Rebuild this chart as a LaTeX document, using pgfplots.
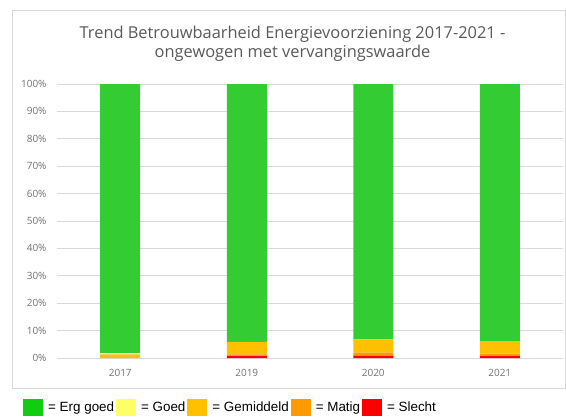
\documentclass[border=0pt]{standalone}
\usepackage{pgfplots}
\pgfplotsset{compat=1.18}
\usepackage{fontspec}
\setmainfont{Open Sans}
\newfontfamily\arial{Liberation Sans}
\definecolor{txtgrey}{HTML}{595959}
\definecolor{gridgrey}{HTML}{D9D9D9}
\definecolor{cgreen}{HTML}{33CC33}
\definecolor{lgreen}{HTML}{11CC11}
\definecolor{cyellow}{HTML}{FFFF66}
\definecolor{cgold}{HTML}{FFC000}
\definecolor{corange}{HTML}{FF9900}
\definecolor{cred}{HTML}{FF0000}
\pgfplotstableread{
x red orange gold yellow green
0 0.0 0.0 1.3 0.4 98.3
1 0.7 0.6 4.6 0.0 94.1
2 0.8 1.2 4.8 0.0 93.2
3 0.7 0.9 4.6 0.0 93.8
}\datatable
\begin{document}
\begin{tikzpicture}
\begin{axis}[
  at={(57pt,58pt)}, anchor=south west,
  scale only axis, width=506pt, height=274pt,
  ybar stacked, bar width=40pt,
  xmin=-0.5, xmax=3.5, ymin=0, ymax=100,
  xtick={0,1,2,3}, xticklabels={2017,2019,2020,2021},
  ytick={0,10,...,100},
  yticklabel={\pgfmathprintnumber{\tick}\%},
  /pgf/number format/assume math mode=true,
  ticklabel style={font=\fontsize{10}{12}\selectfont, text=txtgrey!85},
  yticklabel style={xshift=-7pt},
  xticklabel style={yshift=-8pt},
  axis line style={draw=none},
  major tick style={draw=none},
  ymajorgrids, grid style={gridgrey, line width=0.8pt},
  reverse legend,
  legend style={at={(-0.0672,-0.1807)}, anchor=west, draw=none, fill=none,
    inner sep=0pt, font=\arial\fontsize{13.4}{15}\selectfont, text=black,
    legend columns=5,
    /tikz/every odd column/.append style={column sep=3pt},
    nodes={inner xsep=2pt, inner ysep=0pt}},
  legend image code/.code={\fill[#1] (0pt,-8.5pt) rectangle (20pt,8.5pt);},
]
\addplot[fill=cred, draw=none] table[x=x,y=red]{\datatable};
\addplot[fill=corange, draw=none] table[x=x,y=orange]{\datatable};
\addplot[fill=cgold, draw=none] table[x=x,y=gold]{\datatable};
\addplot[fill=cyellow, draw=none] table[x=x,y=yellow]{\datatable};
\addplot[fill=cgreen, draw=none, forget plot] table[x=x,y=green]{\datatable};
\addlegendimage{fill=lgreen, draw=none}
\legend{= Slecht, = Matig, = Gemiddeld, = Goed, = Erg goed}
\end{axis}
\draw[gridgrey, line width=0.8pt] (12pt,28pt) rectangle (565.5pt,405.5pt);
\node[align=center, text=txtgrey, font=\fontsize{16.4}{19}\selectfont] at (292.5pt,372pt)
  {Trend Betrouwbaarheid Energievoorziening 2017-2021 -\\ongewogen met vervangingswaarde};
\pgfresetboundingbox
\useasboundingbox (0,0) rectangle (566pt,416pt);
\end{tikzpicture}
\end{document}
